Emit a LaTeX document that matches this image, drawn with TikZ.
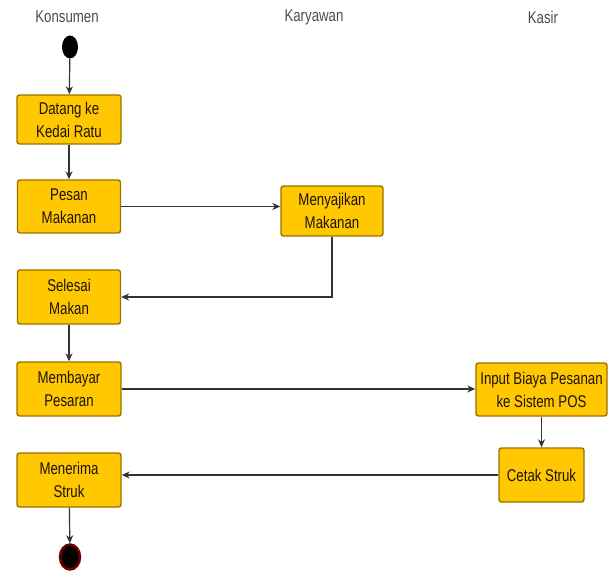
\documentclass[tikz,border=0pt]{standalone}
\usepackage{fontspec}
\setmainfont{Liberation Sans}[FakeStretch=0.78]
\usetikzlibrary{shapes.geometric,arrows.meta}
\definecolor{actfill}{HTML}{FFC800}
\definecolor{actline}{HTML}{9A7200}
\definecolor{flowline}{HTML}{333333}

\begin{document}
\begin{tikzpicture}[x=1pt, y=-1pt,
    every node/.style={font=\fontsize{17}{23}\selectfont},
    act/.style={draw=actline, fill=actfill, line width=1.4pt, rounded corners=2.5pt,
      align=center, inner sep=0pt, text=black!85!brown},
    lane/.style={text=black!70},
    flow/.style={draw=flowline, line width=1.2pt, -{Stealth[length=8pt,width=7pt]}}]
    \useasboundingbox (0,0) rectangle (613,577);

    \node[lane] (konsumen) at (67,17) {Konsumen};
    \node[lane] (karyawan) at (314,17) {Karyawan};
    \node[lane] (kasir) at (543,17) {Kasir};

    \node[ellipse, fill=black, minimum width=16pt, minimum height=23pt, inner sep=0pt] (start) at (70,47) {};
    \node[act, minimum width=104pt, minimum height=49pt] (datang) at (69,119.5) {Datang ke\\Kedai Ratu};
    \node[act, minimum width=103pt, minimum height=53pt] (pesan) at (69,206.5) {Pesan\\Makanan};
    \node[act, minimum width=102pt, minimum height=50pt] (sajikan) at (332,211) {Menyajikan\\Makanan};
    \node[act, minimum width=103pt, minimum height=54pt] (selesai) at (69,297) {Selesai\\Makan};
    \node[act, minimum width=104pt, minimum height=54pt] (bayar) at (69,389) {Membayar\\Pesaran};
    \node[act, minimum width=131pt, minimum height=53pt] (input) at (541.5,389.5) {Input Biaya Pesanan\\ke Sistem POS};
    \node[act, minimum width=85pt, minimum height=54pt] (cetak) at (541.5,475) {Cetak Struk};
    \node[act, minimum width=104pt, minimum height=54pt] (terima) at (69,480) {Menerima\\Struk};
    \node[ellipse, draw=red!45!black, line width=2.5pt, fill=black, minimum width=20pt, minimum height=25pt, inner sep=0pt] (stop) at (70,557) {};

    \draw[flow] (start) -- (datang);
    \draw[flow] (datang) -- (pesan);
    \draw[flow] (pesan.east) -- (pesan.east -| sajikan.west);
    \draw[flow] (sajikan.south) |- (selesai.east);
    \draw[flow] (selesai) -- (bayar);
    \draw[flow] (bayar.east) -- (bayar.east -| input.west);
    \draw[flow] (input) -- (cetak);
    \draw[flow] (cetak.west) -- (cetak.west -| terima.east);
    \draw[flow] (terima) -- (stop);
\end{tikzpicture}
\end{document}
